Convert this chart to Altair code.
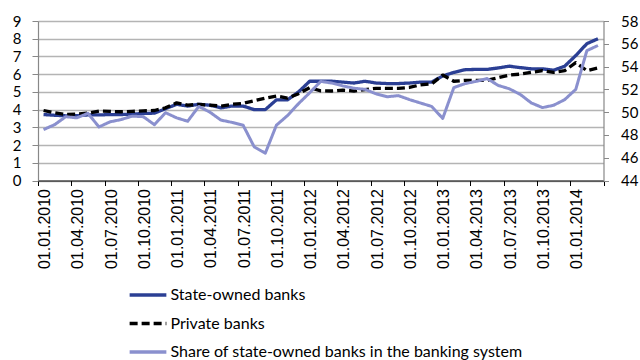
import json
import altair as alt
import pandas as pd

series_names = [
    "State-owned banks",
    "Private banks",
    "Share of state-owned banks in the banking system",
]

state_owned = [3.72, 3.68, 3.65, 3.66, 3.70, 3.70, 3.72, 3.72, 3.75, 3.78,
               3.80, 4.05, 4.30, 4.20, 4.30, 4.25, 4.10, 4.20, 4.20, 4.00,
               4.00, 4.55, 4.55, 5.00, 5.60, 5.60, 5.60, 5.55, 5.50, 5.60,
               5.50, 5.47, 5.47, 5.50, 5.55, 5.55, 5.90, 6.10, 6.25, 6.27,
               6.27, 6.35, 6.45, 6.37, 6.30, 6.30, 6.22, 6.45, 7.05, 7.72,
               8.00]

private = [3.95, 3.82, 3.72, 3.75, 3.80, 3.92, 3.90, 3.88, 3.90, 3.93,
           3.95, 4.10, 4.38, 4.25, 4.30, 4.25, 4.20, 4.30, 4.35, 4.50,
           4.65, 4.77, 4.65, 4.90, 5.24, 5.06, 5.05, 5.10, 5.05, 5.13,
           5.20, 5.20, 5.20, 5.25, 5.40, 5.45, 5.95, 5.60, 5.65, 5.65,
           5.65, 5.80, 5.95, 6.00, 6.10, 6.20, 6.10, 6.20, 6.65, 6.20,
           6.35]

share = [48.47, 48.90, 49.60, 49.50, 49.90, 48.70, 49.15, 49.35, 49.65, 49.60,
         48.90, 49.95, 49.50, 49.20, 50.50, 50.00, 49.30, 49.10, 48.85, 46.95,
         46.40, 48.85, 49.70, 50.75, 51.70, 52.70, 52.55, 52.30, 52.10, 52.00,
         51.60, 51.35, 51.45, 51.10, 50.80, 50.50, 49.45, 52.15, 52.50, 52.70,
         52.95, 52.35, 52.05, 51.55, 50.80, 50.40, 50.60, 51.10, 52.00, 55.40,
         55.85]

tick_labels = ["01.01.2010", "01.04.2010", "01.07.2010", "01.10.2010",
               "01.01.2011", "01.04.2011", "01.07.2011", "01.10.2011",
               "01.01.2012", "01.04.2012", "01.07.2012", "01.10.2012",
               "01.01.2013", "01.04.2013", "01.07.2013", "01.10.2013",
               "01.01.2014"]

left_ticks = [0, 1, 2, 3, 4, 5, 6, 7, 8, 9]
right_ticks = [44, 46, 48, 50, 52, 54, 56, 58]

n = len(state_owned)
df = pd.DataFrame({
    "m": list(range(n)) * 3,
    "value": state_owned + private + share,
    "series": [series_names[0]] * n + [series_names[1]] * n + [series_names[2]] * n,
})

x_ticks = [-0.5 + 3 * k for k in range(len(tick_labels) + 1)]
label_expr = f"{json.dumps(tick_labels)}[round((datum.value + 0.5) / 3)] || ''"

x_enc = alt.X(
    "m:Q",
    scale=alt.Scale(domain=[-0.5, n - 0.5], nice=False, zero=False),
    axis=alt.Axis(
        values=x_ticks, labelExpr=label_expr, labelAngle=270, labelOffset=6.5,
        labelFont="Liberation Sans", labelFontSize=16, labelColor="#000000",
        labelPadding=3, labelFlush=False, labelOverlap=False, labelBound=False,
        tickColor="#000000", tickSize=5, tickWidth=1,
        domainColor="#000000", domainWidth=1.2, grid=False, title=None,
    ),
)

legend = alt.Legend(
    title=None, orient="none", legendX=96, legendY=260, direction="vertical",
    symbolType="M-1.5,0H1.5", symbolSize=600, symbolStrokeWidth=3.5,
    labelFont="Lato", labelFontSize=16, labelColor="#000000", labelLimit=600,
    labelOffset=8.5, rowPadding=6.5,
)

color_enc = alt.Color(
    "series:N",
    scale=alt.Scale(domain=series_names, range=["#2B3F94", "#000000", "#8A90CE"]),
    legend=legend,
)
dash_enc = alt.StrokeDash(
    "series:N",
    scale=alt.Scale(domain=series_names, range=[[1, 0], [8, 4], [1, 0]]),
    legend=legend,
)

base = alt.Chart(df).encode(x=x_enc, color=color_enc, strokeDash=dash_enc)

left = base.transform_filter(
    alt.FieldOneOfPredicate(field="series", oneOf=series_names[:2])
).mark_line(strokeWidth=3.3, strokeJoin="round").encode(
    y=alt.Y(
        "value:Q",
        scale=alt.Scale(domain=[0, 9], nice=False, zero=False),
        axis=alt.Axis(
            values=left_ticks, title=None, labelFont="Lato", labelFontSize=15,
            labelColor="#000000", labelPadding=11, tickSize=6, tickColor="#888888",
            domainColor="#888888", domainWidth=1.2,
            grid=True, gridColor="#b4b4b4", gridWidth=1.3,
        ),
    )
)

right = base.transform_filter(
    alt.FieldEqualPredicate(field="series", equal=series_names[2])
).mark_line(strokeWidth=3, strokeJoin="round").encode(
    y=alt.Y(
        "value:Q",
        scale=alt.Scale(domain=[44, 58], nice=False, zero=False),
        axis=alt.Axis(
            orient="right", values=right_ticks, title=None, labelFont="Lato",
            labelFontSize=15, labelColor="#000000", labelPadding=12, tickSize=5,
            tickColor="#888888", domainColor="#888888", domainWidth=1.2, grid=False,
        ),
    )
)

chart = alt.layer(left, right).resolve_scale(y="independent").properties(
    width=565.5, height=159.5,
    autosize=alt.AutoSizeParams(type="none"),
    padding={"left": 38, "top": 21, "right": 36.5, "bottom": 179.5},
    background="white",
).configure_view(stroke=None)

chart.save("out.html", embed_options={"renderer": "svg", "actions": False})
